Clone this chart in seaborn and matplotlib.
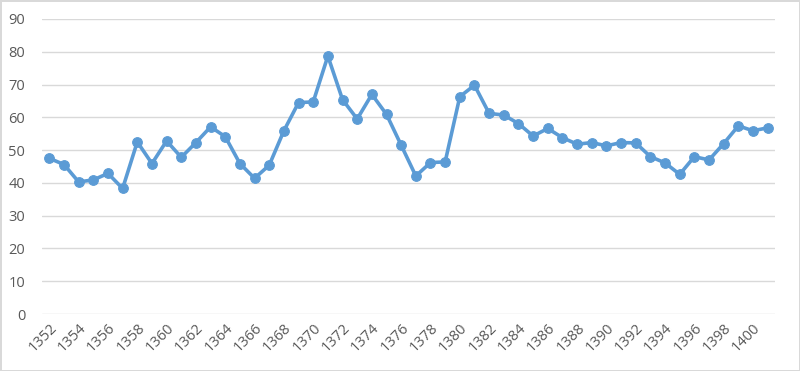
import matplotlib
matplotlib.use("Agg")
import matplotlib.pyplot as plt
import seaborn as sns
import pandas as pd

years = list(range(1352, 1402))
values = [47.5, 45.6, 40.3, 40.9, 42.9, 38.3, 52.5, 45.9, 52.8, 47.8,
          52.3, 57.1, 54.1, 45.9, 41.4, 45.4, 55.9, 64.5, 64.7, 78.7,
          65.4, 59.5, 67.0, 60.9, 51.5, 42.1, 46.2, 46.4, 66.3, 69.8,
          61.2, 60.7, 58.1, 54.3, 56.6, 53.8, 51.8, 52.3, 51.3, 52.3,
          52.2, 48.0, 46.1, 42.6, 48.0, 47.0, 52.0, 57.4, 55.9, 56.8]
tick_years = list(range(1352, 1401, 2))
y_ticks = list(range(0, 91, 10))

df = pd.DataFrame({"year": years, "value": values})

sns.set_theme(style="white")
plt.rcParams['font.family'] = ['Open Sans', 'DejaVu Sans']

fig = plt.figure(figsize=(8, 3.71), dpi=100)
fig.patch.set_facecolor("white")
fig.patch.set_edgecolor("#D9D9D9")
fig.patch.set_linewidth(2)
ax = fig.add_axes([42/800, 1 - 314/371, (775-42)/800, (314-19)/371])

color = "#5B9BD5"
sns.lineplot(data=df, x="year", y="value", ax=ax, color=color, linewidth=2.6,
             marker="o", markersize=7, markeredgecolor=color, markerfacecolor=color,
             zorder=3)

ax.set_xlim(1351.5, 1401.5)
ax.set_ylim(0, 90)
ax.set_yticks(y_ticks)
ax.set_xticks(tick_years)
ax.set_xticklabels([str(y) for y in tick_years], rotation=45, ha="right",
                   rotation_mode="anchor")
ax.grid(axis="y", color="#D9D9D9", linewidth=1)
ax.set_axisbelow(True)
for s in ax.spines.values():
    s.set_visible(False)
ax.tick_params(axis="both", length=0, colors="#595959", labelsize=10.5)
ax.tick_params(axis="y", pad=12)
ax.tick_params(axis="x", pad=5)
ax.set_xlabel("")
ax.set_ylabel("")

fig.savefig("out.png", dpi=100)
